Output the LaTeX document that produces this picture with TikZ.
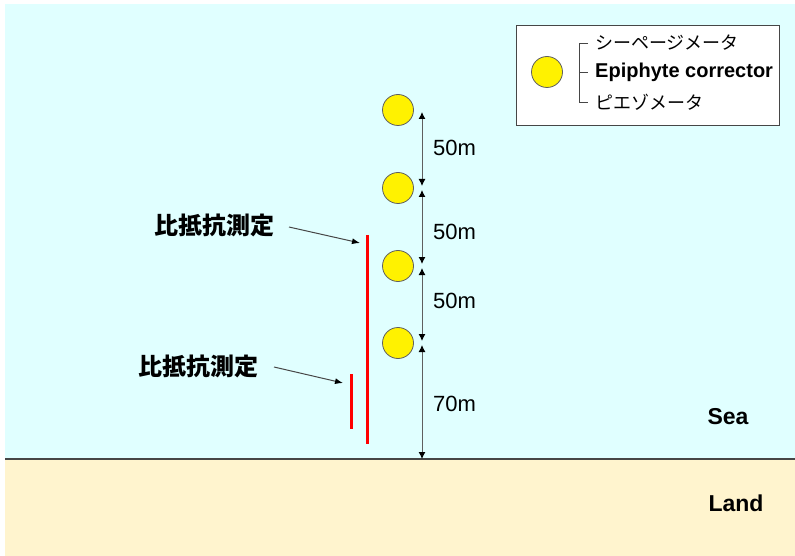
\documentclass[tikz,border=0pt]{standalone}
\usepackage{fontspec}
\setmainfont{Liberation Sans}
\newfontfamily\jp{Noto Sans CJK JP}
\usetikzlibrary{arrows.meta}
\definecolor{seacol}{RGB}{224,255,255}
\definecolor{landcol}{RGB}{255,244,206}
\definecolor{edgecol}{RGB}{70,70,70}
\definecolor{dimcol}{RGB}{95,95,95}
\tikzset{
  buoy/.style={circle, draw=dimcol, line width=0.8pt, fill=yellow, minimum size=31pt, inner sep=0pt},
  dimline/.style={draw=dimcol, line width=1pt, {Latex[length=7pt,width=7pt,black]}-{Latex[length=7pt,width=7pt,black]}},
  dimlabel/.style={anchor=west, font=\fontsize{22}{26}\selectfont, inner sep=0pt},
  redbar/.style={draw=red, line width=3pt},
  ptr/.style={draw=edgecol, line width=1pt, -{Latex[length=8pt,width=6pt,black]}},
  jplabel/.style={font=\jp\bfseries\fontsize{24}{28}\selectfont, inner sep=0pt},
  bigword/.style={font=\bfseries\fontsize{23}{27}\selectfont, inner sep=0pt},
  legtext/.style={anchor=west, inner sep=0pt},
}
\begin{document}
\begin{tikzpicture}[x=1pt,y=-1pt]
\useasboundingbox (0,0) rectangle (795,556);
% sea and land
\fill[seacol] (5,4) rectangle (795,459);
\fill[landcol] (5,459) rectangle (795,556);
\draw[edgecol, line width=2pt] (5,459) -- (795,459);

% buoys
\node[buoy] (b1) at (398,110) {};
\node[buoy] (b2) at (398,188) {};
\node[buoy] (b3) at (398,266) {};
\node[buoy] (b4) at (398,343) {};

% dimension line
\coordinate (d0) at (422,112);
\coordinate (d1a) at (422,186);
\coordinate (d1b) at (422,190);
\coordinate (d2a) at (422,264);
\coordinate (d2b) at (422,268);
\coordinate (d3a) at (422,341);
\coordinate (d3b) at (422,345);
\coordinate (d4) at (422,459);
\draw[dimline] (d0) -- (d1a);
\draw[dimline] (d1b) -- (d2a);
\draw[dimline] (d2b) -- (d3a);
\draw[dimline] (d3b) -- (d4);
\node[dimlabel] (m1) at (433,148) {50m};
\node[dimlabel] (m2) at (433,232) {50m};
\node[dimlabel] (m3) at (433,301) {50m};
\node[dimlabel] (m4) at (433,404) {70m};

% resistivity measurement bars
\coordinate (r1t) at (367,235);
\coordinate (r1b) at (367,444);
\coordinate (r2t) at (351,374);
\coordinate (r2b) at (351,429);
\draw[redbar] (r1t) -- (r1b);
\draw[redbar] (r2t) -- (r2b);

\node[jplabel] (l1) at (214,225) {比抵抗測定};
\node[jplabel] (l2) at (198,366) {比抵抗測定};
\coordinate (p1s) at (289,227);
\coordinate (p1e) at (360,243);
\coordinate (p2s) at (274,367);
\coordinate (p2e) at (343,383);
\draw[ptr] (p1s) -- (p1e);
\draw[ptr] (p2s) -- (p2e);

% region labels
\node[bigword] (sea) at (728,417) {Sea};
\node[bigword] (land) at (736,503) {Land};

% legend
\node[draw=edgecol, line width=1pt, fill=white, minimum width=263pt, minimum height=100pt, inner sep=0pt] (leg) at (647.5,76) {};
\node[buoy] (lb) at (547,72) {};
\coordinate (bt) at (579,43);
\coordinate (bm) at (579,72);
\coordinate (bb) at (579,102);
\coordinate (bte) at (588,43);
\coordinate (bme) at (588,72);
\coordinate (bbe) at (588,102);
\draw[edgecol, line width=0.8pt] (bte) -- (bt) -- (bb) -- (bbe);
\draw[edgecol, line width=0.8pt] (bm) -- (bme);
\node[legtext, font=\jp\fontsize{18}{22}\selectfont] (t1) at (595,43) {シーページメータ};
\node[legtext, font=\bfseries\fontsize{20}{24}\selectfont] (t2) at (595,72) {Epiphyte corrector};
\node[legtext, font=\jp\fontsize{18}{22}\selectfont] (t3) at (595,102) {ピエゾメータ};
\end{tikzpicture}
\end{document}
